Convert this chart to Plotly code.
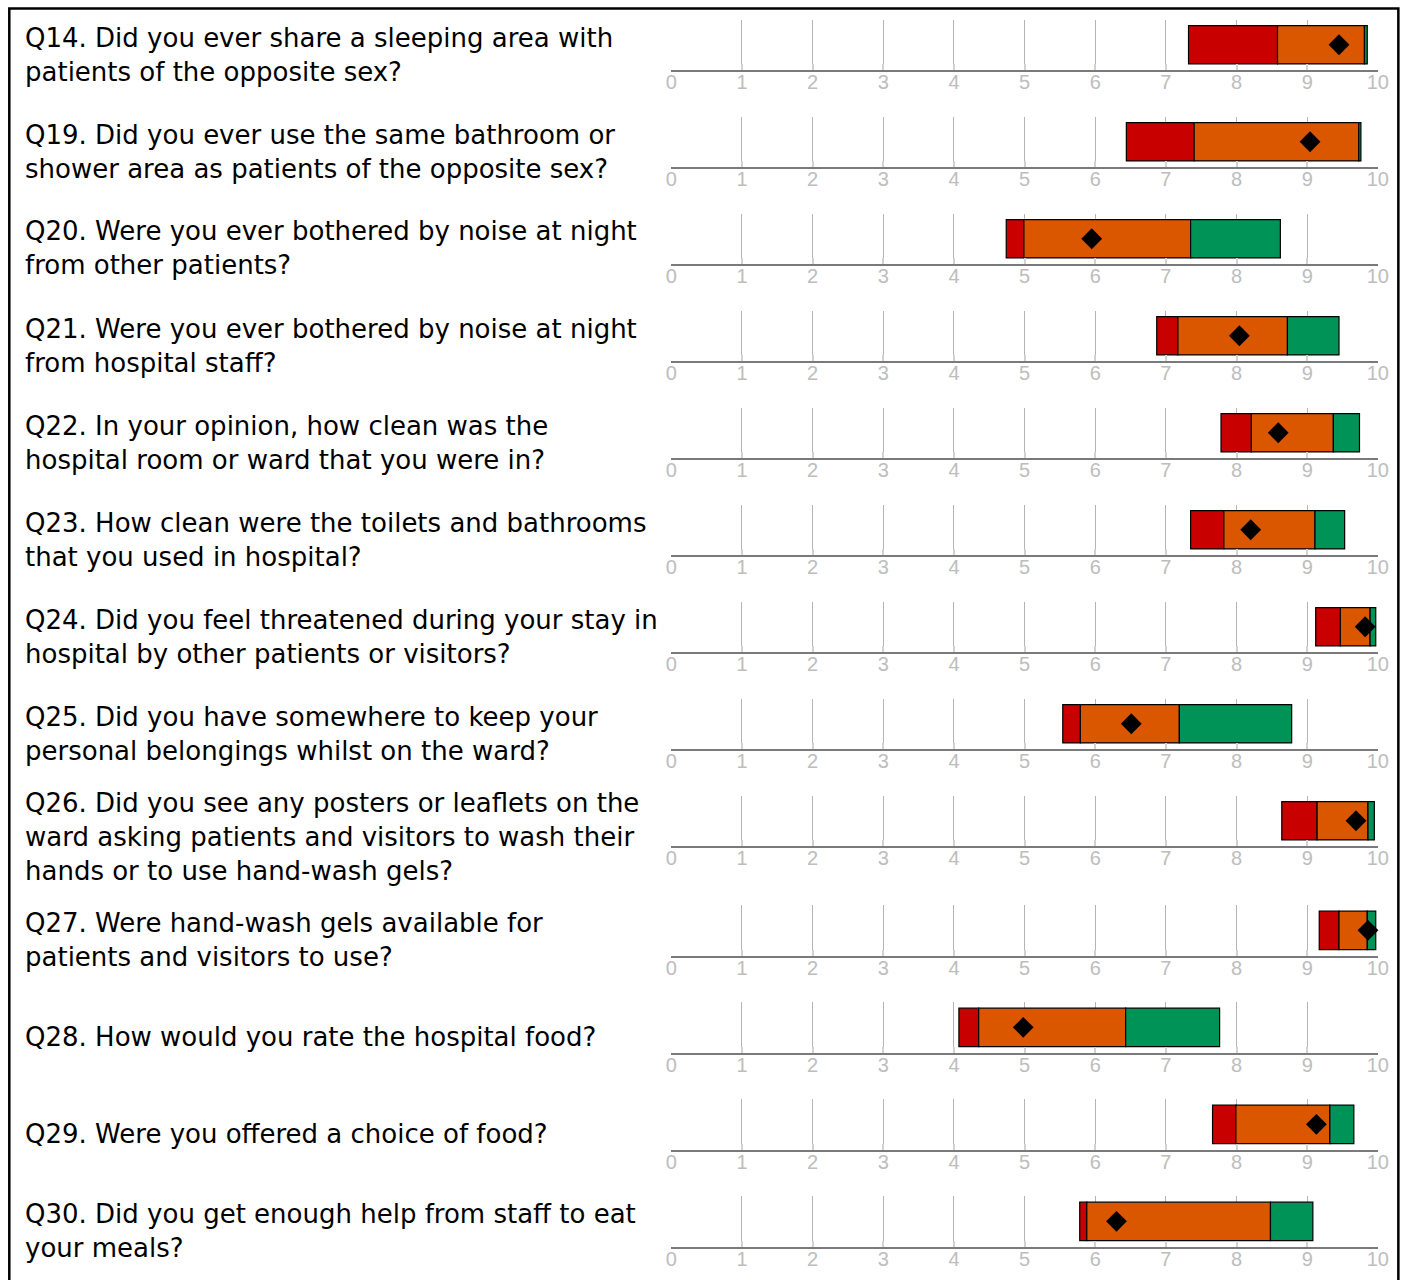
import plotly.graph_objects as go

# ---------------- data ----------------
questions = [
    "Q14. Did you ever share a sleeping area with<br>patients of the opposite sex?",
    "Q19. Did you ever use the same bathroom or<br>shower area as patients of the opposite sex?",
    "Q20. Were you ever bothered by noise at night<br>from other patients?",
    "Q21. Were you ever bothered by noise at night<br>from hospital staff?",
    "Q22. In your opinion, how clean was the<br>hospital room or ward that you were in?",
    "Q23. How clean were the toilets and bathrooms<br>that you used in hospital?",
    "Q24. Did you feel threatened during your stay in<br>hospital by other patients or visitors?",
    "Q25. Did you have somewhere to keep your<br>personal belongings whilst on the ward?",
    "Q26. Did you see any posters or leaflets on the<br>ward asking patients and visitors to wash their<br>hands or to use hand-wash gels?",
    "Q27. Were hand-wash gels available for<br>patients and visitors to use?",
    "Q28. How would you rate the hospital food?",
    "Q29. Were you offered a choice of food?",
    "Q30. Did you get enough help from staff to eat<br>your meals?",
]
range_start = [7.32, 6.44, 4.74, 6.87, 7.78, 7.35, 9.12, 5.54, 8.64, 9.17, 4.07, 7.66, 5.78]
red_end     = [8.58, 7.40, 4.99, 7.17, 8.21, 7.82, 9.47, 5.79, 9.14, 9.45, 4.35, 7.99, 5.88]
orange_end  = [9.81, 9.73, 7.35, 8.72, 9.37, 9.11, 9.89, 7.19, 9.86, 9.85, 6.43, 9.32, 8.48]
range_end   = [9.85, 9.76, 8.62, 9.45, 9.74, 9.53, 9.97, 8.78, 9.95, 9.97, 7.76, 9.66, 9.08]
trust_score = [9.45, 9.04, 5.95, 8.04, 8.59, 8.20, 9.82, 6.51, 9.69, 9.86, 4.98, 9.13, 6.30]
tick_values = list(range(0, 11))
tick_labels = [str(v) for v in tick_values]

# ---------------- layout ----------------
FW, FH = 1420, 1280
RED, ORANGE, GREEN = "#C80000", "#DA5700", "#009358"
HSCALE, HOFF = 0.9887, 4.2   # horizontal compensation for the capture

def fx(target_px):
    return ((target_px - HOFF) / HSCALE) / FW

def fy(py):
    return 1 - py / FH

fig = go.Figure()
layout_axes = {}
annotations = []

row_top = 8.0
for i, q in enumerate(questions):
    n_lines = q.count("<br>") + 1
    row_h = 109.6 if n_lines >= 3 else 97.0
    axis_px = row_top + 62
    panel_top = axis_px - 50.5
    text_c = row_top + row_h / 2 - 2

    k = "" if i == 0 else str(i + 1)
    xa, ya = "x" + k, "y" + k

    segs = [
        (range_start[i], red_end[i], RED),
        (red_end[i], orange_end[i], ORANGE),
        (orange_end[i], range_end[i], GREEN),
    ]
    for s0, s1, col in segs:
        fig.add_trace(go.Bar(
            x=[s1 - s0], base=[s0], y=[0], orientation="h", width=0.76,
            marker=dict(color=col, line=dict(color="#000000", width=1.2)),
            xaxis=xa, yaxis=ya, showlegend=False, hoverinfo="skip",
        ))
    fig.add_trace(go.Scatter(
        x=[trust_score[i]], y=[0], mode="markers",
        marker=dict(symbol="diamond", size=16, color="#000000"),
        xaxis=xa, yaxis=ya, showlegend=False, hoverinfo="skip", cliponaxis=False,
    ))

    layout_axes["xaxis" + k] = dict(
        domain=[fx(670), fx(1377)], range=[0, 10], anchor=ya,
        tickvals=tick_values, ticktext=tick_labels,
        showgrid=True, gridcolor="#b4b4b4", gridwidth=1,
        showline=True, linecolor="#7a7a7a", linewidth=2,
        ticks="inside", ticklen=6, tickwidth=2, tickcolor="#d2d2d2",
        ticklabelstandoff=-7,
        tickfont=dict(family="Liberation Sans, Arial, sans-serif",
                      size=20, color="#bdbdbd"),
        zeroline=False, fixedrange=True,
    )
    layout_axes["yaxis" + k] = dict(
        domain=[fy(axis_px), fy(panel_top)], range=[-0.5, 0.5], anchor=xa,
        showgrid=False, zeroline=False, showticklabels=False, showline=False,
        fixedrange=True,
    )
    annotations.append(dict(
        text=q, xref="paper", yref="paper", x=fx(25) - 4 / FW, y=fy(text_c),
        xanchor="left", yanchor="middle", align="left", showarrow=False,
        font=dict(family="DejaVu Sans, Liberation Sans, Arial, sans-serif", size=26, color="#000000"),
    ))
    row_top += row_h

fig.update_layout(
    width=FW, height=FH,
    margin=dict(l=0, r=0, t=0, b=0),
    paper_bgcolor="#ffffff", plot_bgcolor="rgba(0,0,0,0)",
    barmode="overlay",
    annotations=annotations,
    shapes=[dict(type="rect", xref="paper", yref="paper",
                 x0=fx(7.5), x1=fx(1397.5), y0=fy(1290), y1=fy(8.5),
                 line=dict(color="#000000", width=2.5), fillcolor="rgba(0,0,0,0)", layer="above")],
    **layout_axes,
)

# let the figure fill the window exactly (no default page margin / scrollbars)
page_fit = ("document.body.style.margin='0';"
            "document.body.style.overflow='hidden';"
            "document.documentElement.style.overflow='hidden';")

fig.write_html("out.html", post_script=page_fit, config={"displayModeBar": False})
